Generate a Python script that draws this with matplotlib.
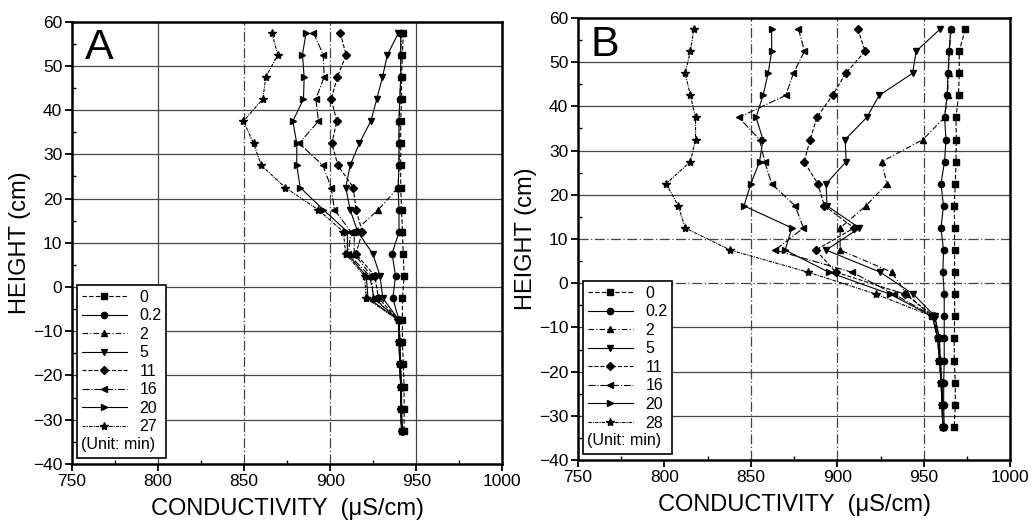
import numpy as np
import matplotlib
matplotlib.use('Agg')
import matplotlib.pyplot as plt
from matplotlib.lines import Line2D
from matplotlib.ticker import MultipleLocator
from matplotlib import font_manager

plt.rcParams['font.family'] = ['Liberation Sans', 'DejaVu Sans']

# heights of the probes (cm)
heights = [57.5, 52.5, 47.5, 42.5, 37.5, 32.5, 27.5, 22.5, 17.5, 12.5,
           7.5, 2.5, -2.5, -7.5, -12.5, -17.5, -22.5, -27.5, -32.5]

# panel A, conductivity (uS/cm) for each time (min)
labels_a = ['0', '0.2', '2', '5', '11', '16', '20', '27']
a_0 = [942.5, 942, 941.5, 941.5, 941, 941, 941, 941, 941.5, 942,
       942.5, 943, 942, 942, 942, 942.5, 943, 943, 943]
a_02 = [941, 941, 941, 940.5, 940, 940, 940, 939.5, 940, 940,
        936, 938, 936.4, 940, 940.5, 941, 941.5, 941.5, 942]
a_2 = [941.5, 941, 941, 940.5, 940, 940, 940, 939.5, 928, 914,
       914, 924, 925, 940, 940.5, 941, 941, 941, 941.5]
a_5 = [939.7, 933.3, 930.4, 927.1, 923.6, 917, 911.6, 909.1, 911.6, 916,
       924.8, 929, 930.6, 940, 940.5, 940.5, 941, 941, 942]
a_11 = [905.8, 909.3, 904.2, 900.6, 903.9, 901, 904.5, 913.5, 915, 918.7,
        915, 926, 928, 940, 940.5, 940.5, 941, 941, 942]
a_16 = [890.3, 896, 896.5, 891.7, 893.2, 882, 895.8, 900.6, 902.5, 912,
        910.5, 923, 925.5, 940, 940, 940.5, 941, 941, 941.5]
a_20 = [886, 883.9, 884.9, 884.5, 878.3, 880.6, 880.6, 882.6, 896, 910,
        910, 921, 922, 940, 940, 940.5, 941, 941, 941.5]
a_27 = [866.1, 869.6, 862.6, 860.9, 849.6, 855.5, 860, 873.9, 893, 907.7,
        909, 920, 921, 939.5, 940, 940.5, 941, 941, 941.5]

# panel B
labels_b = ['0', '0.2', '2', '5', '11', '16', '20', '28']
b_0 = [974, 970.5, 970.5, 970.1, 968.6, 968.8, 968.6, 968.2, 967.6, 967.8,
       967.8, 967.8, 967.8, 967.8, 967.6, 967.6, 968.2, 968.2, 967.6]
b_02 = [965.5, 964.7, 964, 963.5, 962, 962.8, 962, 959.9, 961.4, 959.9,
        961.4, 961, 961.8, 961.8, 961.8, 961.8, 961.5, 961.5, 961.8]
b_2 = [965.9, 964.7, 964.3, 963.7, 962, 949.5, 925.7, 928.6, 916.5, 901.6,
       901.6, 931.5, 940, 955, 958, 959, 960, 960.5, 961]
b_5 = [959.5, 945.6, 943.5, 924.2, 917, 904.5, 905.1, 893.5, 894, 912.8,
       893.5, 924.8, 944, 956.5, 959, 959.5, 960.5, 961, 961]
b_11 = [911.8, 916.1, 904.9, 897.2, 888.1, 884.3, 880.8, 888.7, 892.5, 909.7,
        887.5, 899.1, 939.2, 956, 959, 959.5, 960.5, 961, 961]
b_16 = [877.5, 881, 874.6, 870.2, 843, 855, 858, 862, 875.6, 880.4,
        864, 908.4, 932.9, 955.5, 958.5, 959.5, 960, 960.5, 961]
b_20 = [862, 862, 860, 857, 853, 857, 855, 850, 846, 873.7,
        869.8, 895, 930.6, 955, 958, 959, 960, 960.5, 961]
b_28 = [817, 815, 812, 815, 818, 818, 815, 801, 808, 812,
        838, 883, 922.5, 955, 958, 959, 960, 960.5, 961]

markers = ['s', 'o', '^', 'v', 'D', '<', '>', '*']
styles = [(0, (4, 2)), '-', (0, (5, 2, 1, 2)), '-', '--', '-.', '-', (0, (3, 1, 1, 1))]
msizes = [4, 4.5, 4.5, 4.5, 4, 4.5, 4.5, 6]

# narrow face for tick numbers if there is one
names = {f.name for f in font_manager.fontManager.ttflist}
tick_family = 'Liberation Sans Narrow' if 'Liberation Sans Narrow' in names else 'Liberation Sans'

fig = plt.figure(figsize=(10.33, 5.29), dpi=100)
ax_a = fig.add_axes([0.0697, 0.123, 0.4165, 0.836])
ax_b = fig.add_axes([0.5595, 0.1304, 0.4185, 0.8356])


def draw_panel(ax, series, labels, letter, vlines, hdash):
    # grid lines
    for y in [-30, -20, -10, 0, 10, 20, 30, 40, 50]:
        ls = (0, (8, 2, 1, 2)) if y in hdash else '-'
        ax.axhline(y, color='#444444', lw=0.9, ls=ls, zorder=1)
    for x, ls in vlines:
        ax.axvline(x, color='#444444', lw=0.9, ls=ls, zorder=1)

    for vals, m, ls, ms, lab in zip(series, markers, styles, msizes, labels):
        ax.plot(vals, heights, color='black', lw=0.8, ls=ls, marker=m,
                ms=ms, mfc='black', mec='black', label=lab, zorder=3)

    ax.set_xlim(750, 1000)
    ax.set_ylim(-40, 60)
    ax.xaxis.set_major_locator(MultipleLocator(50))
    ax.xaxis.set_minor_locator(MultipleLocator(25))
    ax.yaxis.set_major_locator(MultipleLocator(10))
    ax.yaxis.set_minor_locator(MultipleLocator(5))
    ax.tick_params(which='major', direction='out', length=5, width=1.3,
                   labelsize=12.5, pad=2)
    ax.tick_params(which='minor', direction='in', length=3, width=1)
    for t in ax.get_xticklabels() + ax.get_yticklabels():
        t.set_family(tick_family)
    for s in ax.spines.values():
        s.set_linewidth(1.8)
    ax.set_xlabel('CONDUCTIVITY  (\u03bcS/cm)', fontsize=17, labelpad=7)
    ax.set_ylabel('HEIGHT (cm)', fontsize=17, labelpad=1)
    ax.text(0.03, 0.985, letter, transform=ax.transAxes, fontsize=31,
            va='top', ha='left')

    handles, labs = ax.get_legend_handles_labels()
    handles.append(Line2D([], [], color='none'))
    labs.append(' ')
    leg = ax.legend(handles, labs, loc='lower left',
                    bbox_to_anchor=(0.012, 0.014), borderaxespad=0,
                    fontsize=11.5, labelspacing=0.22, handlelength=2.8,
                    handletextpad=0.8, borderpad=0.3, fancybox=False,
                    edgecolor='black', framealpha=1)
    leg.get_frame().set_linewidth(1.2)
    ax.text(0.022, 0.028, '(Unit: min)', transform=ax.transAxes,
            fontsize=11.5, va='bottom', ha='left', zorder=10)


draw_panel(ax_a, [a_0, a_02, a_2, a_5, a_11, a_16, a_20, a_27], labels_a, 'A',
           [(800, '-'), (850, (0, (8, 2, 1, 2))), (900, (0, (8, 2, 1, 2))), (950, '-')],
           [])
draw_panel(ax_b, [b_0, b_02, b_2, b_5, b_11, b_16, b_20, b_28], labels_b, 'B',
           [(850, (0, (8, 2, 1, 2))), (900, (0, (8, 2, 1, 2))), (950, (0, (8, 2, 1, 2)))],
           [0, 10])

fig.savefig('out.png', dpi=100)
